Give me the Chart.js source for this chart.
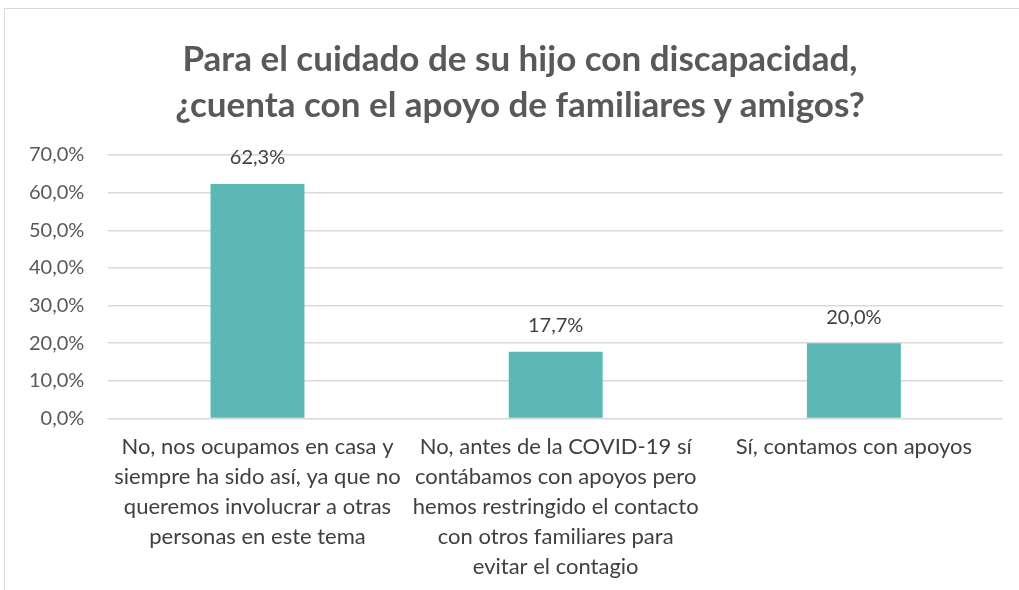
<!DOCTYPE html>
<html>
<head>
<meta charset="utf-8">
<script src="https://cdn.jsdelivr.net/npm/chart.js@4"></script>
<style>
  html, body { margin: 0; padding: 0; background: #fff; }
  #frame {
    position: absolute; left: 4px; top: 8px; width: 1030px; height: 600px;
    border-left: 1px solid #d9d9d9; border-top: 1px solid #d9d9d9;
  }
  #wrap { position: absolute; left: 0; top: 0; width: 1019px; height: 590px; }
  #title {
    position: absolute; left: 0; top: 34px; width: 1040px;
    text-align: center; font: bold 35px Lato, sans-serif; line-height: 46px;
    color: #595959; white-space: nowrap;
  }
</style>
</head>
<body>
<div id="frame"></div>
<div id="wrap"><canvas id="chart"></canvas></div>
<div id="title"></div>
<script>
var titleLines = ['Para el cuidado de su hijo con discapacidad,', '¿cuenta con el apoyo de familiares y amigos?'];

var categories = [
    ['No, nos ocupamos en casa y', 'siempre ha sido así, ya que no', 'queremos involucrar a otras', 'personas en este tema'],
    ['No, antes de la COVID-19 sí', 'contábamos con apoyos pero', 'hemos restringido el contacto', 'con otros familiares para', 'evitar el contagio'],
    ['Sí, contamos con apoyos']
];

var percentages = [62.3, 17.7, 20.0];

var yTicks = [0, 10, 20, 30, 40, 50, 60, 70];

var fontName = 'Lato';

function formatPct(v, digits) {
    return v.toFixed(digits).replace('.', ',') + '%';
}

// draws the value above each bar
var barLabels = {
    id: 'barLabels',
    afterDatasetsDraw: function (chart) {
        var ctx = chart.ctx;
        var meta = chart.getDatasetMeta(0);
        ctx.save();
        ctx.font = '20px ' + fontName;
        ctx.fillStyle = '#404040';
        ctx.textAlign = 'center';
        ctx.textBaseline = 'middle';
        meta.data.forEach(function (bar, i) {
            ctx.fillText(formatPct(percentages[i], 1), bar.x, bar.y - 26);
        });
        ctx.restore();
    }
};

document.addEventListener("DOMContentLoaded", function () {
    document.getElementById('title').innerHTML = titleLines.join('<br>');

    var ctx = document.getElementById('chart').getContext('2d');
    new Chart(ctx, {
        type: 'bar',
        data: {
            labels: categories,
            datasets: [{
                data: percentages,
                backgroundColor: '#5bb8b4',
                borderWidth: 0,
                categoryPercentage: 1.0,
                barPercentage: 0.315
            }]
        },
        plugins: [barLabels],
        options: {
            responsive: true,
            maintainAspectRatio: false,
            animation: false,
            layout: { padding: { left: 5, right: 16, top: 155, bottom: 2 } },
            plugins: {
                legend: { display: false },
                tooltip: { enabled: false },
                title: { display: false }
            },
            scales: {
                x: {
                    grid: { display: false },
                    border: { display: false },
                    ticks: {
                        color: '#404040',
                        font: { family: fontName, size: 22, lineHeight: 1.36 },
                        maxRotation: 0,
                        minRotation: 0,
                        autoSkip: false,
                        padding: 6
                    }
                },
                y: {
                    min: 0,
                    max: 70,
                    afterBuildTicks: function (axis) {
                        axis.ticks = yTicks.map(function (v) { return { value: v }; });
                    },
                    grid: { color: '#d9d9d9', lineWidth: 1.5, drawTicks: false },
                    border: { display: false },
                    ticks: {
                        color: '#595959',
                        font: { family: fontName, size: 20 },
                        padding: 24,
                        callback: function (v) { return formatPct(v, 1); }
                    }
                }
            }
        }
    });
});
</script>
</body>
</html>
